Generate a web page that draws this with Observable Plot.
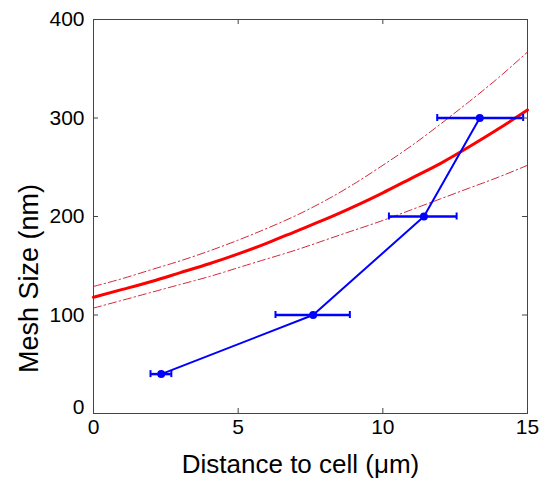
<!DOCTYPE html>
<html><head><meta charset="utf-8">
<script src="https://cdn.jsdelivr.net/npm/d3@7"></script>
<script src="https://cdn.jsdelivr.net/npm/@observablehq/plot@0.6"></script>
<style>html,body{margin:0;padding:0;background:#fff} svg{display:block}</style>
</head><body><div id="chart"></div>
<script>
// Tick labels and axis titles
const xTicks = [0, 5, 10, 15];
const yTicks = [0, 100, 200, 300, 400];
const xLabel = "Distance to cell (μm)";
const yLabel = "Mesh Size (nm)";

// Fitted curve (solid) and its confidence band (dash-dot)
const fitX     = [0, 1, 2, 3, 4, 5, 6, 7, 8, 9, 10, 11, 12, 13, 14, 15];
const fitMid   = [118, 126, 134, 143, 152, 162, 173, 185, 197, 210, 224, 239, 254, 271, 289, 308];
const fitUpper = [129, 137, 146, 155, 165, 176, 188, 201, 216, 233, 252, 272, 294, 317, 341, 367];
const fitLower = [107, 115, 123, 131, 139, 148, 157, 166, 176, 186, 196, 207, 218, 229, 240, 252];

// Measured points with horizontal error bars
const ptX   = [2.34, 7.59, 11.42, 13.35];
const ptY   = [40, 100, 200, 300];
const ptXLo = [1.97, 6.29, 10.21, 11.88];
const ptXHi = [2.69, 8.86, 12.55, 14.85];

const W = 542, H = 486, mL = 93, mR = 15, mT = 19, mB = 73;
const plotW = W - mL - mR, plotH = H - mT - mB;
const axisColor = "#444";
const bandColor = "#d02a3c";

const fit = fitX.map((x, i) => ({x, mid: fitMid[i], up: fitUpper[i], lo: fitLower[i]}));
const pts = ptX.map((x, i) => ({x, y: ptY[i], lo: ptXLo[i], hi: ptXHi[i]}));

const chart = Plot.plot({
  width: W, height: H,
  marginLeft: mL, marginRight: mR, marginTop: mT, marginBottom: mB,
  style: {fontFamily: "'Liberation Sans', Arial, sans-serif", background: "#fff", color: "#000"},
  x: {domain: [xTicks[0], xTicks[xTicks.length - 1]]},
  y: {domain: [yTicks[0], yTicks[yTicks.length - 1]]},
  marks: [
    Plot.line(fit, {x: "x", y: "up", stroke: bandColor, strokeWidth: 1, strokeDasharray: "8,3,1.5,3", curve: "natural"}),
    Plot.line(fit, {x: "x", y: "lo", stroke: bandColor, strokeWidth: 1, strokeDasharray: "8,3,1.5,3", curve: "natural"}),
    Plot.line(fit, {x: "x", y: "mid", stroke: "#f00", strokeWidth: 3, curve: "natural"}),
    Plot.line(pts, {x: "x", y: "y", stroke: "#00f", strokeWidth: 2}),
    Plot.ruleY(pts, {y: "y", x1: "lo", x2: "hi", stroke: "#00f", strokeWidth: 2.5}),
    Plot.ruleX(pts, {x: "lo", y1: "y", y2: "y", insetTop: -3.5, insetBottom: -3.5, stroke: "#00f", strokeWidth: 2}),
    Plot.ruleX(pts, {x: "hi", y1: "y", y2: "y", insetTop: -3.5, insetBottom: -3.5, stroke: "#00f", strokeWidth: 2}),
    Plot.dot(pts, {x: "x", y: "y", r: 4, fill: "#00f"}),
    Plot.frame({stroke: axisColor}),
    // inward ticks on all four sides
    Plot.ruleX(xTicks, {x: d => d, insetTop: plotH - 5, stroke: axisColor}),
    Plot.ruleX(xTicks, {x: d => d, insetBottom: plotH - 5, stroke: axisColor}),
    Plot.ruleY(yTicks, {y: d => d, insetRight: plotW - 5, stroke: axisColor}),
    Plot.ruleY(yTicks, {y: d => d, insetLeft: plotW - 5, stroke: axisColor}),
    Plot.axisX(xTicks, {tickSize: 0, tickPadding: 6, fontSize: 21, label: null, tickFormat: d => String(d)}),
    Plot.axisY(yTicks.slice(1), {tickSize: 0, tickPadding: 9, fontSize: 21, label: null, tickFormat: d => String(d)}),
    Plot.axisY(yTicks.slice(0, 1), {tickSize: 0, tickPadding: 9, fontSize: 21, label: null, dy: -6, tickFormat: d => String(d)}),
    Plot.text([xLabel], {text: d => d, frameAnchor: "bottom", textAnchor: "middle", dx: -10, dy: 51, fontSize: 26, lineAnchor: "middle", fill: "#000"}),
    Plot.text([yLabel], {text: d => d, frameAnchor: "left", textAnchor: "middle", dx: -64, dy: 62, rotate: -90, fontSize: 27, lineAnchor: "middle", fill: "#000"})
  ]
});
document.getElementById("chart").append(chart);
</script>
</body></html>
